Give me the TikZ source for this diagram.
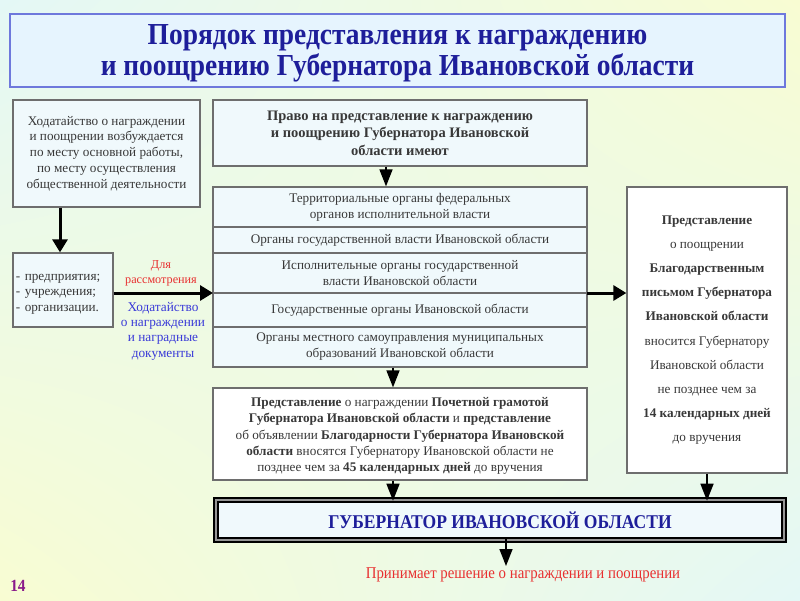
\documentclass[tikz,border=0pt]{standalone}
\usepackage{fontspec}
\setmainfont{Liberation Serif}
\newfontfamily\narrowserif[FakeStretch=0.9]{Liberation Serif}
\usetikzlibrary{arrows.meta,shadings}
\definecolor{bgcyan}{HTML}{E4F8F6}
\definecolor{bgyel}{HTML}{F8FCD2}
\definecolor{titleblue}{HTML}{1E1E9A}
\definecolor{boxfill}{HTML}{F0F9FC}
\definecolor{boxline}{HTML}{6E6E6E}
\definecolor{labelblue}{HTML}{3A3AD8}
\definecolor{labelred}{HTML}{E83030}
\definecolor{pagenum}{HTML}{8A1A8A}
\tikzset{
  box/.style={draw=boxline, line width=1.3pt, fill=boxfill, inner sep=2pt, align=center,
    font=\fontsize{13.2}{16}\selectfont, text=black!78},
  whitebox/.style={box, fill=white},
  plaintext/.style={align=center, inner sep=1pt, text=black!78},
  thickarrow/.style={line width=3pt, -{Triangle[length=13pt,width=15pt]}},
  smallarrow/.style={line width=1.5pt, -{Triangle[length=17pt,width=13pt]}},
}
\begin{document}
\begin{tikzpicture}[x=1pt,y=-1pt]
\useasboundingbox (0,0) rectangle (800,600);
\shade[upper left=bgcyan, upper right=bgyel, lower left=bgyel, lower right=bgcyan] (0,0) rectangle (800,600);

% title
\node[draw={rgb,255:red,110;green,120;blue,220}, line width=2pt, fill={rgb,255:red,230;green,244;blue,254},
  minimum width=775pt, minimum height=73pt] (title) at (397.5,50.5) {};
\node[align=center, text=titleblue, font=\narrowserif\fontsize{30.5}{30.5}\selectfont\bfseries] (titletext)
  at ([yshift=-3pt]title.center)
  {Порядок представления к награждению\\и поощрению Губернатора Ивановской области};

% left column
\node[box, minimum width=187pt, minimum height=107pt, font=\fontsize{13.2}{15.7}\selectfont] (b1) at (106.5,153.5)
  {Ходатайство о награждении\\и поощрении возбуждается\\по месту основной работы,\\по месту осуществления\\общественной деятельности};
\node[box, minimum width=100pt, minimum height=74pt] (b2) at (63,290) {};
\node[plaintext, text width=94pt, align=left, font=\fontsize{13.2}{15.7}\selectfont] (b2text)
  at ([yshift=-4pt]b2.center) {- предприятия;\\- учреждения;\\- организации.};

% right column header
\node[box, minimum width=374pt, minimum height=66pt, font=\fontsize{14.5}{17.5}\selectfont\bfseries] (pravo) at (400,133)
  {Право на представление к награждению\\и поощрению Губернатора Ивановской\\области имеют};

% stack
\node[box, minimum width=374pt, minimum height=40pt] (r1) at (400,207)
  {Территориальные органы федеральных\\органов исполнительной власти};
\node[box, minimum width=374pt, minimum height=26pt] (r2) at (400,240)
  {Органы государственной власти Ивановской области};
\node[box, minimum width=374pt, minimum height=40pt] (r3) at (400,273)
  {Исполнительные органы государственной\\власти Ивановской области};
\node[box, minimum width=374pt, minimum height=34pt] (r4) at (400,310)
  {Государственные органы Ивановской области};
\node[box, minimum width=374pt, minimum height=40pt] (r5) at (400,347)
  {Органы местного самоуправления муниципальных\\образований Ивановской области};
\coordinate (stackL) at (213,293);
\coordinate (stackR) at (587,293);

% box 3
\node[whitebox, minimum width=374pt, minimum height=92pt] (b3) at (400,434) {};
\node[plaintext, font=\fontsize{13.2}{16.2}\selectfont] (b3text) at ([yshift=-2pt]b3.center)
  {\textbf{Представление} о награждении \textbf{Почетной грамотой}\\
   \textbf{Губернатора Ивановской области} и \textbf{представление}\\
   об объявлении \textbf{Благодарности Губернатора Ивановской}\\
   \textbf{области} вносятся Губернатору Ивановской области не\\
   позднее чем за \textbf{45 календарных дней} до вручения};

% right box
\node[whitebox, minimum width=160pt, minimum height=286pt, font=\fontsize{13.2}{24.2}\selectfont] (rb) at (707,330)
  {\textbf{Представление}\\о поощрении\\\textbf{Благодарственным}\\\textbf{письмом Губернатора}\\\textbf{Ивановской области}\\вносится Губернатору\\Ивановской области\\не позднее чем за\\\textbf{14 календарных дней}\\до вручения};

% governor
\node[draw=black, line width=1.6pt, double={rgb,255:red,150;green,150;blue,150}, double distance=2.6pt,
  fill=boxfill, minimum width=568pt, minimum height=40pt, text=titleblue,
  font=\narrowserif\fontsize{19.5}{20}\selectfont\bfseries] (gov) at (500,520) {ГУБЕРНАТОР ИВАНОВСКОЙ ОБЛАСТИ};

% labels
\node[text=labelred, align=center, font=\fontsize{12.2}{15}\selectfont] (lbl1) at (161,273) {Для\\рассмотрения};
\node[text=labelblue, align=center, font=\fontsize{13.3}{15.3}\selectfont] (lbl2) at (163,331)
  {Ходатайство\\о награждении\\и наградные\\документы};
\node[text=labelred, font=\narrowserif\fontsize{16.5}{17}\selectfont] (decision) at (523,575) {Принимает решение о награждении и поощрении};
\node[text=pagenum, font=\narrowserif\fontsize{17}{18}\selectfont\bfseries] (num) at (18,586) {14};

% arrows
\draw[thickarrow] (b1.south -| 60,0) -- (b2.north -| 60,0);
\draw[thickarrow] (b2.east |- stackL) -- (stackL);
\draw[thickarrow] (stackR) -- (rb.west |- stackR);
\draw[smallarrow] (pravo.south -| 386,0) -- (r1.north -| 386,0);
\draw[smallarrow] (r5.south -| 393,0) -- (b3.north -| 393,0);
\draw[smallarrow] (b3.south -| 393,0) -- ([yshift=-1.5pt]gov.north -| 393,0);
\draw[smallarrow] (rb.south) -- ([yshift=-1.5pt]gov.north -| rb.south);
\coordinate (decTop) at (506,566);
\draw[smallarrow] ([yshift=2pt]gov.south -| decTop) -- (decTop);
\end{tikzpicture}
\end{document}
